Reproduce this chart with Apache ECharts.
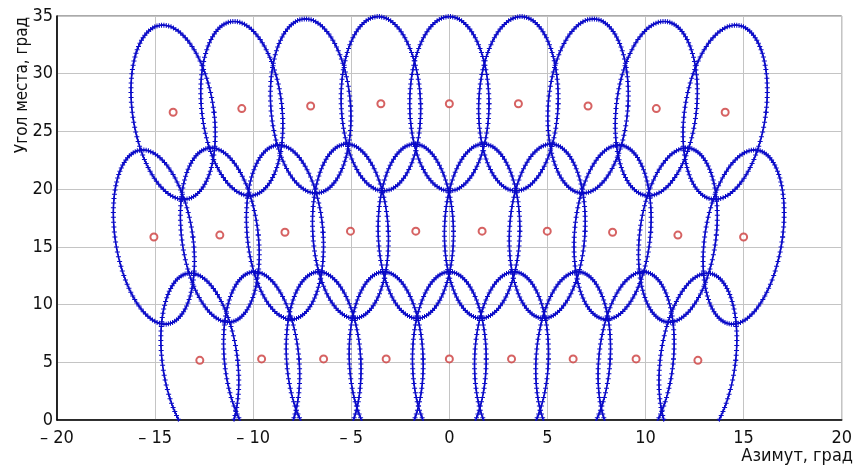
<!DOCTYPE html>
<html>
<head>
<meta charset="utf-8">
<script src="https://cdn.jsdelivr.net/npm/echarts@6/dist/echarts.min.js"></script>
<style>
  html, body { margin: 0; padding: 0; background: #ffffff; }
  #chart { width: 855px; height: 468px; }
</style>
</head>
<body>
<div id="chart"></div>
<script>
// Beam centres (azimuth, elevation in degrees), one pair of arrays per elevation tier
const lowAz  = [-12.72, -9.57, -6.41, -3.22, 0, 3.17, 6.31, 9.52, 12.67];
const lowEl  = [5.17, 5.29, 5.29, 5.29, 5.29, 5.29, 5.29, 5.29, 5.17];
const midAz  = [-15.06, -11.7, -8.38, -5.04, -1.71, 1.67, 4.99, 8.32, 11.65, 15.0];
const midEl  = [15.85, 16.02, 16.27, 16.36, 16.36, 16.36, 16.36, 16.27, 16.02, 15.85];
const highAz = [-14.08, -10.58, -7.07, -3.49, 0, 3.52, 7.07, 10.55, 14.06];
const highEl = [26.66, 26.98, 27.2, 27.4, 27.4, 27.4, 27.2, 26.98, 26.66];

// Beam contour size for each tier (low, mid, high): half-width in azimuth, half-height in elevation
const beamHalfWidth  = [1.88, 1.92, 2.02];
const beamHalfHeight = [7.55, 7.55, 7.55];
// Contour lean: azimuth shift per degree of elevation, per degree of beam azimuth
const leanPerDeg = 0.005;
// Points along each contour
const contourPoints = 110;

// Axis ticks
const xTickValues = [-20, -15, -10, -5, 0, 5, 10, 15, 20];
const xTickLabels = ['\u2013 20', '\u2013 15', '\u2013 10', '\u2013 5', '0', '5', '10', '15', '20'];
const yTickValues = [0, 5, 10, 15, 20, 25, 30, 35];
const yTickLabels = ['0', '5', '10', '15', '20', '25', '30', '35'];

const xName = 'Азимут, град';
const yName = 'Угол места, град';

const tiers = [
  { az: lowAz,  el: lowEl },
  { az: midAz,  el: midEl },
  { az: highAz, el: highEl }
];

const BLUE = '#0a0ac8';
const RED = '#cc3b3b';
const FONT = '"Liberation Sans Narrow", "DejaVu Sans Condensed", "Liberation Sans", sans-serif';

// Contour of one beam: an ellipse around the beam centre, widened off boresight and leaning outward
function beamContour(cx, cy, tier) {
  const a = beamHalfWidth[tier] / Math.cos(cx * Math.PI / 180);
  const b = beamHalfHeight[tier];
  const k = leanPerDeg * cx;
  const pts = [];
  for (let i = 0; i <= contourPoints; i++) {
    const t = 2 * Math.PI * i / contourPoints;
    const y = cy + b * Math.sin(t);
    const x = cx + a * Math.cos(t) + k * (y - cy);
    pts.push([x, y]);
  }
  return pts;
}

const series = [];
const centres = [];
tiers.forEach((tier, ti) => {
  tier.az.forEach((az, i) => {
    const el = tier.el[i];
    centres.push([az, el]);
    series.push({
      type: 'line',
      data: beamContour(az, el, ti),
      clip: true,
      smooth: false,
      showSymbol: true,
      showAllSymbol: true,
      symbol: 'path://M2,0h1v2h2v1h-2v2h-1v-2h-2v-1h2z',
      symbolSize: 5,
      lineStyle: { color: BLUE, width: 1.6 },
      itemStyle: { color: BLUE },
      emphasis: { disabled: true },
      silent: true,
      z: 2
    });
  });
});

series.push({
  type: 'scatter',
  data: centres,
  symbol: 'emptyCircle',
  symbolSize: 7,
  itemStyle: { color: RED, borderColor: RED, borderWidth: 1 },
  silent: true,
  z: 3
});

const chart = echarts.init(document.getElementById('chart'), null, { renderer: 'canvas' });
chart.setOption({
  animation: false,
  backgroundColor: '#ffffff',
  grid: {
    left: 57, right: 12, top: 16, bottom: 48,
    show: true, borderColor: '#555555', borderWidth: 1, backgroundColor: 'transparent'
  },
  xAxis: {
    type: 'value',
    min: xTickValues[0], max: xTickValues[xTickValues.length - 1], interval: 5,
    axisLine: { show: true, onZero: false, lineStyle: { color: '#000000', width: 1.6 } },
    axisTick: { show: false },
    splitLine: { show: true, lineStyle: { color: '#c4c4c4', width: 1 } },
    axisLabel: {
      margin: 9, color: '#111111', fontFamily: FONT, fontSize: 18,
      formatter: v => { const i = xTickValues.indexOf(v); return i >= 0 ? xTickLabels[i] : ''; }
    }
  },
  yAxis: {
    type: 'value',
    min: yTickValues[0], max: yTickValues[yTickValues.length - 1], interval: 5,
    axisLine: { show: true, onZero: false, lineStyle: { color: '#000000', width: 1.6 } },
    axisTick: { show: false },
    splitLine: { show: true, lineStyle: { color: '#c4c4c4', width: 1 } },
    axisLabel: {
      margin: 4, color: '#111111', fontFamily: FONT, fontSize: 18,
      formatter: v => { const i = yTickValues.indexOf(v); return i >= 0 ? yTickLabels[i] : ''; }
    }
  },
  graphic: [
    {
      type: 'text', x: 23, y: 85, rotation: Math.PI / 2,
      style: { text: yName, fill: '#111111', font: '17px ' + FONT, textAlign: 'center', textVerticalAlign: 'middle' }
    },
    {
      type: 'text', x: 853, y: 456,
      style: { text: xName, fill: '#111111', font: '18px ' + FONT, textAlign: 'right', textVerticalAlign: 'middle' }
    }
  ],
  series: series
});
</script>
</body>
</html>
